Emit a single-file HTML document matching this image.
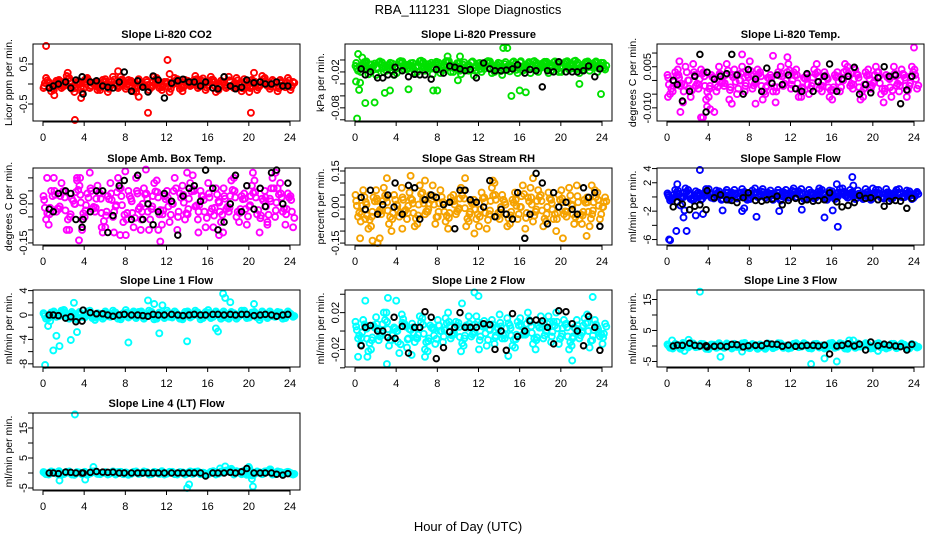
<!DOCTYPE html>
<html><head><meta charset="utf-8">
<style>
html,body{margin:0;padding:0;background:#fff;}
svg{display:block;font-family:"Liberation Sans",Arial,sans-serif;}
</style></head>
<body>
<svg id="chart" width="936" height="540" viewBox="0 0 936 540" xmlns="http://www.w3.org/2000/svg">
<rect width="936" height="540" fill="#fff"/>
<text x="468" y="14" font-size="13" text-anchor="middle" style="white-space:pre">RBA_111231  Slope Diagnostics</text>
<text x="468" y="531" font-size="13" text-anchor="middle">Hour of Day (UTC)</text>
</svg>
<script>
// shared time grids
const hoursA = [0,0.5,1,1.5,2,2.5,3,3.5,4,4.5,5,5.5,6,6.5,7,7.5,8,8.5,9,9.5,10,10.5,11,11.5,12,12.5,13,13.5,14,14.5,15,15.5,16,16.5,17,17.5,18,18.5,19,19.5,20,20.5,21,21.5,22,22.5,23,23.5,24];
const blackHours = [0.6,1.0,1.5,2.2,2.7,3.2,3.8,3.9,4.6,5.2,5.8,6.3,6.8,7.4,7.9,8.6,9.2,9.7,10.2,10.7,11.2,11.8,12.5,13.1,13.6,14.2,14.7,15.3,15.8,16.5,17.0,17.6,18.2,18.7,19.3,19.8,20.5,21.1,21.6,22.2,22.7,23.3,23.8];
const xTicks = [0,4,8,12,16,20,24];
const titles = ["Slope Li-820 CO2","Slope Li-820 Pressure","Slope Li-820 Temp.","Slope Amb. Box Temp.","Slope Gas Stream RH","Slope Sample Flow","Slope Line 1 Flow","Slope Line 2 Flow","Slope Line 3 Flow","Slope Line 4 (LT) Flow"];
const yLabels = ["Licor ppm per min.","kPa per min.","degrees C per min.","degrees C per min.","percent per min.","ml/min per min.","ml/min per min.","ml/min per min.","ml/min per min.","ml/min per min."];
const colors = ["#ff0000","#00e000","#ff00ff","#ff00ff","#f5a200","#0000ff","#00ffff","#00ffff","#00ffff","#00ffff"];
const yRanges = [[-0.925,1.0],[-0.102,0.0267],[-0.0148,0.0133],[-0.158,0.138],[-0.158,0.1625],[-6.77,4.08],[-8.52,4.1],[-0.0391,0.0446],[-6.78,18.06],[-5.67,20]];
const yTicks = [[0.5,0,-0.5],[0,-0.02,-0.04,-0.06,-0.08,-0.10],[0.01,0.005,0,-0.005,-0.01],[0.1,0.05,0,-0.05,-0.1,-0.15],[0.15,0.1,0.05,0,-0.05,-0.1,-0.15],[4,2,0,-2,-4,-6],[4,2,0,-2,-4,-6,-8],[0.04,0.02,0,-0.02,-0.04],[15,10,5,0,-5],[20,15,10,5,0,-5]];
const yTickLabels = [["0.5","","-0.5"],["","-0.02","","","-0.08",""],["","0.005","","","-0.010"],["","","0.00","","","-0.15"],["0.15","","","0.00","","","-0.15"],["4","2","","-2","","-6"],["4","","0","","-4","","-8"],["","0.02","","-0.02",""],["15","","5","","-5"],["","15","","5","","-5"]];

// panel 1 CO2
const co2A = [-0.1,0.05,-0.15,0.1,-0.05,0.15,-0.2,0.0,0.1,-0.1,0.05,-0.15,0.12,-0.05,0.0,0.18,-0.12,0.08,-0.2,0.02,0.1,-0.08,0.15,-0.15,0.05,-0.02,0.12,-0.18,0.08,0.0,-0.1,0.14,-0.05,0.1,-0.15,0.05,0.18,-0.1,0.0,0.12,-0.2,0.06,-0.05,0.15,-0.12,0.02,0.1,-0.08,-0.15];
const co2B = [0.15,-0.18,0.08,-0.1,0.2,-0.12,0.05,-0.2,0.15,0.02,-0.15,0.1,-0.2,0.18,-0.1,0.05,0.1,-0.18,0.12,-0.05,-0.15,0.18,-0.1,0.05,-0.2,0.15,-0.12,0.1,-0.05,0.2,0.1,-0.15,0.18,-0.2,0.08,-0.1,-0.05,0.15,-0.18,-0.05,0.1,-0.15,0.2,-0.05,0.1,-0.18,-0.05,0.15,0.05];
const co2OutX = [0.3,2.4,3.1,3.7,7.3,10.2,12.1,12.3,20.2,20.5,9.3,1.1];
const co2OutY = [0.95,0.28,-0.9,-0.35,0.32,-0.72,0.6,0.25,-0.72,0.28,-0.32,-0.28];
const co2Black = [-0.1,-0.05,0.0,0.05,-0.1,0.1,0.18,-0.25,0.05,0.08,-0.05,-0.08,-0.1,0.05,0.3,-0.18,0.08,-0.08,-0.2,0.2,0.1,-0.35,0.02,0.08,0.12,0.05,0.05,-0.05,0.05,-0.1,-0.12,0.18,-0.05,-0.12,-0.08,0.1,0.03,0.05,0.0,0.0,0.05,-0.05,-0.05];
// panel 2 pressure
const presA = [-0.01,-0.02,-0.005,-0.015,-0.025,-0.008,-0.018,-0.012,-0.022,-0.005,-0.016,-0.01,-0.02,-0.006,-0.014,-0.024,-0.009,-0.017,-0.004,-0.02,-0.012,-0.008,-0.018,-0.026,-0.01,-0.015,-0.005,-0.02,-0.012,-0.007,-0.019,-0.011,-0.004,-0.016,-0.022,-0.009,-0.013,-0.006,-0.018,-0.01,-0.02,-0.004,-0.014,-0.008,-0.017,-0.005,-0.012,-0.02,-0.01];
const presB = [-0.018,-0.006,-0.024,-0.01,-0.004,-0.02,-0.008,-0.025,-0.003,-0.016,-0.009,-0.021,-0.002,-0.018,-0.008,-0.005,-0.022,-0.003,-0.02,-0.009,-0.024,-0.016,-0.004,-0.01,-0.02,-0.003,-0.022,-0.008,-0.025,-0.016,-0.004,-0.022,-0.018,-0.006,-0.003,-0.02,-0.005,-0.022,-0.004,-0.02,-0.006,-0.016,-0.002,-0.022,-0.006,-0.018,-0.004,-0.008,-0.016];
const presOutX = [0.2,0.3,0.4,0.5,1.0,1.9,2.9,3.4,5.2,7.6,8.0,9.0,10.2,10.0,14.4,14.8,15.2,16.0,16.6,21.8,23.9,0.1,0.7,0.9];
const presOutY = [-0.098,0.01,-0.05,-0.038,-0.072,-0.071,-0.055,-0.051,-0.049,-0.051,-0.051,0.006,0.006,-0.034,0.02,0.02,-0.06,-0.051,-0.054,-0.04,-0.057,-0.036,0.004,-0.01];
const presBlack = [-0.015,-0.025,-0.02,-0.03,-0.03,-0.025,-0.025,-0.012,-0.018,-0.028,-0.024,-0.025,-0.025,-0.032,-0.016,-0.022,-0.01,-0.012,-0.015,-0.018,-0.016,-0.03,-0.005,-0.015,-0.018,-0.018,-0.017,-0.015,-0.008,-0.022,-0.016,-0.018,-0.045,-0.018,-0.02,-0.003,-0.02,-0.02,-0.02,-0.018,-0.01,-0.028,-0.015];
// panel 3 Li-820 temp
const ltA = [0.002,-0.004,0.004,-0.008,0.0,0.006,-0.003,0.003,-0.006,0.001,0.005,-0.002,-0.007,0.004,0.0,-0.004,0.007,-0.001,0.003,-0.005,0.002,-0.008,0.005,0.0,-0.003,0.004,-0.006,0.002,-0.002,0.006,-0.004,0.001,-0.007,0.003,0.0,0.005,-0.003,0.002,-0.006,0.004,-0.001,0.003,-0.008,0.001,0.005,-0.004,0.002,-0.002,0.004];
const ltB = [-0.005,0.003,-0.002,0.005,-0.006,-0.002,0.004,-0.007,0.002,-0.004,-0.001,0.006,0.002,-0.005,0.005,0.002,-0.003,0.004,-0.007,0.001,-0.004,0.003,-0.002,0.006,0.003,-0.006,0.001,-0.005,0.004,-0.003,0.003,-0.006,0.002,-0.004,0.006,-0.002,0.004,-0.007,0.003,-0.003,0.005,-0.005,0.002,-0.006,-0.002,0.004,-0.006,0.005,-0.003];
const ltOutX = [3.3,3.5,4.2,4.6,3.9,6.3,7.3,10.3,11.7,24.0,1.2,8.6,0.1,1.3];
const ltOutY = [-0.0135,-0.0135,-0.0105,-0.0115,-0.0095,-0.0085,0.0095,0.009,0.0085,0.012,0.007,-0.0085,-0.006,-0.0115];
const ltBlack = [0.0,-0.0015,-0.0075,-0.004,0.0015,0.0095,-0.0115,0.003,0.0005,0.0015,0.0025,0.0095,0.002,-0.005,0.004,0.0005,-0.004,0.0045,-0.001,0.002,-0.0015,0.002,-0.003,-0.004,0.0025,-0.004,-0.0005,0.0015,0.006,-0.004,0.0005,0.0015,0.0048,-0.005,-0.0015,-0.0045,0.001,0.005,0.0015,0.002,-0.0085,-0.0035,0.0015];
// panel 4 ambient box temp
const abA = [0.03,-0.08,0.1,-0.02,0.05,-0.1,0.0,0.07,-0.05,0.12,-0.03,0.04,-0.09,0.08,-0.01,0.06,-0.12,0.02,0.1,-0.06,0.04,-0.02,0.09,-0.08,0.05,0.0,-0.1,0.07,-0.04,0.11,-0.06,0.03,0.08,-0.09,0.01,0.06,-0.03,0.1,-0.07,0.04,-0.01,0.09,-0.11,0.05,0.02,-0.05,0.08,-0.08,0.03];
const abB = [-0.06,0.05,-0.03,0.08,-0.1,0.02,0.09,-0.06,0.04,-0.02,0.07,-0.11,0.03,-0.05,0.1,-0.07,0.05,-0.09,-0.02,0.06,-0.1,0.08,-0.04,0.03,-0.07,0.1,0.04,-0.06,0.08,-0.01,0.05,-0.09,-0.03,0.06,-0.07,-0.02,0.09,-0.05,0.03,-0.08,0.07,-0.04,0.02,-0.07,0.1,0.06,-0.03,0.04,-0.09];
const abOutX = [0.4,3.3,3.5,3.6,6.9,7.5,8.0,9.5,10.0,11.4,11.2,14.0,15.1,17.1,17.5,20.4,21.8,22.6,3.8,5.7];
const abOutY = [0.1,0.1,-0.14,0.1,-0.11,-0.12,0.125,-0.1,0.132,-0.145,-0.1,0.12,-0.11,-0.12,-0.11,0.12,-0.08,0.12,-0.1,-0.09];
const abBlack = [-0.02,-0.03,0.04,0.05,0.04,-0.06,-0.09,-0.06,-0.03,0.05,0.05,-0.11,-0.045,0.07,0.09,-0.06,0.11,-0.06,0.0,-0.08,-0.03,0.04,0.01,-0.12,0.03,0.06,0.07,0.01,0.13,0.06,-0.1,-0.07,0.0,0.11,-0.03,0.07,-0.02,0.06,-0.01,0.12,0.13,0.0,0.08];
// panel 5 gas stream RH
const rhA = [0.05,-0.06,0.02,-0.08,0.07,-0.03,0.04,-0.1,0.01,0.08,-0.05,0.03,-0.07,0.06,-0.02,0.09,-0.04,0.02,-0.09,0.05,-0.01,0.07,-0.06,0.03,-0.08,0.04,-0.03,0.1,-0.05,0.02,-0.07,0.06,0.0,-0.09,0.08,-0.02,0.05,-0.06,0.03,-0.1,0.07,-0.04,0.01,0.09,-0.07,0.04,-0.03,0.06,0.0];
const rhB = [-0.04,0.07,-0.09,0.04,-0.02,0.08,-0.07,0.05,-0.04,-0.02,0.06,-0.08,0.09,-0.03,0.05,-0.07,0.07,-0.06,0.04,-0.03,0.08,-0.08,0.02,-0.05,0.06,-0.09,0.08,-0.04,0.05,-0.08,0.03,-0.05,0.09,0.04,-0.06,0.07,-0.08,0.06,-0.05,0.05,-0.03,0.08,-0.07,-0.05,0.03,-0.08,0.07,-0.05,0.04];
const rhOutX = [0.5,1.7,2.2,2.4,3.1,5.4,6.8,10.7,11.6,13.4,17.3,20.2,22.5,23.0,1.0,4.6];
const rhOutY = [-0.13,-0.14,-0.15,-0.13,0.12,0.13,0.11,0.12,-0.11,0.11,0.12,-0.13,-0.12,0.09,-0.05,-0.09];
const rhBlack = [0.04,-0.01,0.07,-0.03,0.01,0.05,0.0,0.1,-0.03,0.09,0.08,-0.05,0.03,0.05,0.04,0.01,0.02,-0.09,0.07,0.07,0.03,0.02,0.0,0.11,-0.04,-0.01,-0.03,-0.05,0.06,-0.13,-0.03,0.14,0.1,-0.07,0.06,0.0,0.02,-0.01,-0.03,0.08,0.04,0.06,-0.08];
// panel 6 sample flow
const sfA = [0.5,-0.3,0.9,0.0,1.0,-0.5,0.6,0.2,1.1,-0.2,0.8,0.3,-0.4,1.0,0.1,0.7,-0.3,1.2,0.4,-0.1,0.9,0.2,-0.5,1.0,0.5,0.0,1.1,-0.2,0.6,0.3,1.0,-0.4,0.8,0.1,1.2,-0.1,0.5,0.9,-0.3,0.7,0.2,1.0,-0.2,0.6,0.4,1.1,0.0,0.8,0.3];
const sfB = [-0.5,1.0,-0.1,1.2,-0.3,0.8,-0.4,1.1,-0.1,0.9,-0.4,1.0,0.6,-0.2,1.1,-0.4,0.9,0.0,1.1,0.6,-0.4,1.0,0.7,-0.1,1.2,0.8,-0.3,1.0,-0.2,1.2,-0.2,0.9,-0.3,1.1,0.2,1.0,-0.3,0.0,1.1,-0.4,1.0,-0.1,1.1,-0.3,1.0,0.0,0.9,-0.3,0.7];
const sfOutX = [0.2,0.3,0.9,1.0,1.3,1.6,1.7,1.9,2.8,3.2,3.5,5.4,7.3,7.5,8.7,10.9,13.1,15.3,16.1,16.5,16.6,18.0,18.1,20.0];
const sfOutY = [-6.0,-6.1,-4.8,1.8,-1.2,-2.9,-1.9,-4.8,-2.6,3.8,-2.4,-1.9,-2.0,-1.6,-2.8,-2.0,-1.8,-2.9,-1.9,1.8,-4.2,2.8,1.6,1.2];
const sfBlack = [-1.4,-0.7,-1.0,-1.8,-1.3,-1.1,-1.8,0.9,-0.1,0.3,-0.4,-0.5,-0.8,-0.1,0.6,-0.5,-0.6,-0.4,-0.3,0.1,-1.1,-0.5,-0.2,-0.6,-0.4,-0.6,-0.5,-0.4,0.6,-0.7,-1.4,-1.2,-0.8,0.2,-0.2,-0.1,-0.4,-1.3,-0.6,-0.5,-0.6,-1.6,-0.2];
// panel 7 line 1 flow
const l1A = [0.3,-0.5,0.6,-0.2,0.8,-0.6,0.1,0.5,-0.4,0.7,-0.8,0.2,0.6,-0.3,0.4,-0.7,0.8,0.0,-0.5,0.6,-0.2,0.5,-0.6,0.3,0.7,-0.4,0.1,-0.7,0.6,-0.1,0.4,-0.5,0.8,-0.3,0.2,0.6,-0.6,0.3,-0.2,0.7,-0.4,0.5,-0.8,0.1,0.6,-0.3,0.4,-0.5,0.2];
const l1B = [-0.6,0.4,-0.3,0.7,-0.2,0.5,-0.7,-0.3,0.6,-0.5,0.3,-0.6,-0.2,0.7,-0.6,0.3,-0.4,0.6,0.5,-0.6,0.7,-0.7,0.4,-0.5,-0.3,0.6,-0.6,0.5,-0.4,0.7,-0.7,0.5,-0.5,0.6,-0.6,-0.4,0.5,-0.6,0.7,-0.5,0.4,-0.4,0.6,-0.5,-0.2,0.5,-0.6,0.6,-0.3];
const l1OutX = [0.2,0.5,1.0,1.3,1.6,2.7,3.0,3.3,8.3,10.2,10.8,11.3,11.6,14.0,16.8,17.0,17.5,17.7,18.2,20.5,2.0,0.7];
const l1OutY = [-8.2,-1.8,-5.8,-3.4,-5.1,-4.1,2.0,-2.8,-4.5,2.4,1.8,-3.0,1.6,-4.3,-2.2,-2.7,3.5,2.8,2.1,1.8,0.8,-1.0];
const l1Black = [0.0,0.0,-0.1,-0.5,-0.3,-1.1,-1.0,0.8,0.4,0.2,0.2,0.0,-0.2,0.0,0.1,0.0,0.0,-0.1,-0.2,0.1,0.0,0.0,0.1,0.0,-0.1,0.0,0.1,0.0,0.0,0.1,0.1,0.0,0.1,0.0,0.1,0.1,-0.1,0.0,0.1,0.0,-0.2,0.0,0.1];
// panel 8 line 2 flow
const l2A = [0.01,-0.015,0.005,-0.02,0.015,-0.005,0.02,-0.01,0.0,0.018,-0.018,0.008,-0.008,0.014,-0.022,0.004,0.012,-0.012,0.02,-0.004,0.009,-0.016,0.016,-0.002,-0.02,0.011,0.002,-0.014,0.018,-0.008,0.006,-0.018,0.014,-0.004,0.01,-0.02,0.016,0.0,-0.012,0.02,-0.006,0.008,-0.016,0.012,-0.002,0.018,-0.01,0.004,-0.014];
const l2B = [-0.008,0.012,-0.022,0.006,-0.01,0.02,-0.016,0.004,-0.024,0.008,0.002,-0.012,0.016,-0.02,0.006,-0.014,0.0,0.014,-0.008,0.01,-0.022,0.006,-0.006,0.016,0.008,-0.016,0.012,0.004,-0.008,0.014,-0.016,0.01,-0.004,0.02,-0.014,0.006,-0.008,0.016,0.01,-0.014,0.012,-0.02,0.004,-0.008,0.014,-0.018,0.012,-0.006,0.008];
const l2OutX = [0.3,1.0,1.2,3.1,3.2,6.8,11.6,12.0,21.1,23.1,4.0,10.4,14.9,5.5];
const l2OutY = [-0.028,0.033,-0.028,-0.036,0.036,-0.028,0.042,0.038,-0.032,0.037,0.033,0.03,-0.027,-0.026];
const l2Black = [-0.016,0.004,0.006,0.0,0.0,-0.007,0.015,-0.008,0.005,-0.024,0.004,0.004,0.021,0.015,-0.03,-0.018,-0.001,0.004,0.02,0.004,0.004,0.004,0.008,0.007,-0.02,0.0,-0.021,0.019,-0.006,0.0,0.011,0.012,0.011,0.004,-0.014,0.022,0.021,0.008,0.0,-0.016,0.016,0.004,-0.021];
// panel 9 line 3 flow
const l3A = [0.5,-0.8,0.3,1.0,-0.5,0.8,-0.2,0.6,-1.0,0.4,0.9,-0.6,0.2,0.7,-0.4,1.0,-0.7,0.3,0.5,-0.9,0.6,-0.3,0.8,0.1,-0.6,0.9,-0.2,0.4,-0.8,0.7,0.2,-0.5,1.0,-0.3,0.6,-0.9,0.4,0.8,-0.1,0.5,-0.7,0.9,0.2,-0.5,0.7,-0.2,0.4,-0.8,0.3];
const l3B = [-0.6,0.7,-0.9,0.2,0.9,-0.4,0.7,-0.9,0.5,-0.6,-0.2,0.8,-0.8,-0.3,0.8,-0.5,0.6,-0.9,-0.4,0.8,-0.7,0.9,-0.6,-0.8,0.7,-0.4,0.9,-0.7,0.6,-0.5,-0.8,0.8,-0.6,0.9,-0.8,0.5,-0.6,-0.2,0.9,-0.8,0.6,-0.5,-0.8,0.7,-0.7,0.8,-0.8,0.6,-0.5];
const l3OutX = [3.2,5.2,7.3,14.0,15.3,16.5,0.5,1.7,2.1,17.7,18.1,20.5];
const l3OutY = [17.5,-3.5,-1.8,-5.8,-4.0,-5.0,1.8,-1.6,2.0,1.8,1.8,-1.6];
const l3Black = [0.0,0.3,0.2,0.9,0.2,0.0,0.1,-0.3,-0.1,0.0,-0.2,0.5,0.4,-0.3,0.1,0.2,0.1,0.8,0.6,0.5,-0.1,0.3,-0.1,0.0,0.2,0.2,0.0,0.3,-2.6,0.0,0.2,0.7,0.0,0.6,-1.3,1.3,0.1,0.6,0.3,0.0,-0.2,-1.3,0.5];
// panel 10 line 4 flow
const l4A = [0.3,-0.5,0.2,0.6,-0.3,0.5,-0.6,0.1,0.4,-0.2,0.6,-0.4,0.3,0.0,-0.5,0.4,0.2,-0.3,0.5,-0.1,0.3,-0.4,0.1,0.6,-0.2,0.4,-0.5,0.2,0.0,-0.3,0.5,0.1,-0.4,0.6,-0.2,0.3,1.0,-0.5,0.4,0.8,1.6,-0.3,0.2,0.5,1.2,-0.4,0.3,0.1,-0.2];
const l4B = [-0.4,0.5,-0.2,-0.6,0.4,-0.5,0.3,-0.4,-0.6,0.5,-0.3,0.2,-0.5,0.5,0.3,-0.4,-0.6,0.4,-0.3,0.5,-0.5,0.4,-0.3,-0.5,0.4,-0.4,0.3,-0.5,0.5,0.4,-0.4,-0.5,0.4,-0.5,0.5,0.8,1.4,0.6,-0.4,-0.6,-0.8,0.5,-0.4,0.6,-0.5,0.5,-0.4,0.4,-0.5];
const l4OutX = [3.1,1.6,4.1,4.9,14.0,14.2,17.7,20.0,20.3,20.4,22.1,17.2];
const l4OutY = [19.5,-2.5,-2.2,2.0,-5.0,-3.8,2.2,2.0,-2.0,-4.5,1.2,1.5];
const l4Black = [0,0,-0.2,0.3,0.2,0.0,0.0,0.0,0.2,0.5,0.3,0.2,0.3,0.0,0.0,0.0,0.0,0.0,0.0,0.0,0.0,0.0,0.0,0.0,0.0,0.0,0.0,0.0,-1.0,0.0,0.0,0.0,0.2,0.0,0.4,1.5,0.0,0.0,0.0,0.0,-0.4,-0.7,-0.2];

const seriesA = [co2A,presA,ltA,abA,rhA,sfA,l1A,l2A,l3A,l4A];
const seriesB = [co2B,presB,ltB,abB,rhB,sfB,l1B,l2B,l3B,l4B];
const outX = [co2OutX,presOutX,ltOutX,abOutX,rhOutX,sfOutX,l1OutX,l2OutX,l3OutX,l4OutX];
const outY = [co2OutY,presOutY,ltOutY,abOutY,rhOutY,sfOutY,l1OutY,l2OutY,l3OutY,l4OutY];
const blackY = [co2Black,presBlack,ltBlack,abBlack,rhBlack,sfBlack,l1Black,l2Black,l3Black,l4Black];
const panelNames = ["co2","pressure","li820-temp","amb-box-temp","gas-stream-rh","sample-flow","line1-flow","line2-flow","line3-flow","line4-flow"];

const NS = "http://www.w3.org/2000/svg";
const svg = document.getElementById('chart');
const colLeft = [33,345,657], rowTop = [44,168,290,413];
const BW = 267, BH = 77, PAD = 10, PLOTW = 247;
function mk(tag, attrs, parent){const e=document.createElementNS(NS,tag);for(const k in attrs)e.setAttribute(k,attrs[k]);parent.appendChild(e);return e;}

for(let p=0;p<10;p++){
  const L = colLeft[p%3], T = rowTop[Math.floor(p/3)];
  const [ymin,ymax] = yRanges[p];
  const xs = h => L + PAD + h*PLOTW/24;
  const ys = v => T + (ymax - v)/(ymax - ymin)*BH;
  const g = mk('g',{},svg);
  
  
  const cp = mk('clipPath',{id:'cp'+p},g);
  mk('rect',{x:L-3,y:T-3,width:BW+6,height:BH+6},cp);
  const title = mk('text',{x:L+BW/2,y:T-6,'font-size':11,'font-weight':'bold','text-anchor':'middle'},g);
  title.textContent = titles[p];
  
  
  const yl = mk('text',{x:0,y:0,'font-size':10.5,'text-anchor':'middle',transform:`translate(${L-21},${T+BH/2}) rotate(-90)`},g);
  yl.textContent = yLabels[p];
  
  
  // points
  const pg = mk('g',{'clip-path':`url(#cp${p})`,fill:'none','stroke-width':1.9},g);
  
  
  const dot = (h,v,c,r) => { const c1 = mk('circle',{cx:xs(h).toFixed(1),cy:ys(v).toFixed(1),r:r,stroke:c},pg);
    
     };
  seriesA[p].forEach((v,i)=>dot(hoursA[i]+0.05,v,colors[p],3));
  seriesB[p].forEach((v,i)=>dot(hoursA[i]+0.3,v,colors[p],3));
  seriesA[p].forEach((v,i)=>dot(hoursA[i]+0.18,(v+seriesB[p][i])/2,colors[p],3));
  seriesB[p].forEach((v,i)=>dot(hoursA[i]+0.42,v*0.6,colors[p],3));
  seriesA[p].forEach((v,i)=>dot(hoursA[i]+0.12,v*0.5,colors[p],3));
  outX[p].forEach((h,i)=>dot(h,outY[p][i],colors[p],3));
  blackY[p].forEach((v,i)=>dot(blackHours[i],v,'#000',2.8));
  // frame
  const fr = mk('rect',{x:L,y:T,width:BW,height:BH,fill:'none',stroke:'#000','stroke-width':1},g);
  
  
  // x axis
  mk('line',{x1:xs(0),y1:T+BH+1,x2:xs(24),y2:T+BH+1,stroke:'#000'},g);
  xTicks.forEach(t=>{
    mk('line',{x1:xs(t),y1:T+BH,x2:xs(t),y2:T+BH+5,stroke:'#000'},g);
    const tx = mk('text',{x:xs(t),y:T+BH+20,'font-size':11,'text-anchor':'middle'},g);
    tx.textContent = t;
    
    
  });
  // y axis
  yTicks[p].forEach((t,i)=>{
    const y = ys(t);
    mk('line',{x1:L-5,y1:y,x2:L,y2:y,stroke:'#000'},g);
    if(yTickLabels[p][i]){
      const ty = mk('text',{x:0,y:0,'font-size':11,'text-anchor':'middle',transform:`translate(${L-6},${y}) rotate(-90)`},g);
      ty.textContent = yTickLabels[p][i];
      
      
    }
  });
}
</script>
</body></html>
